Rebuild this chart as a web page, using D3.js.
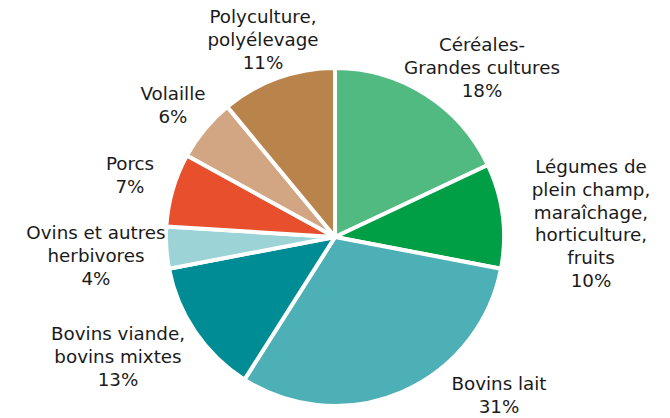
<!DOCTYPE html>
<html>
<head>
<meta charset="utf-8">
<script src="https://cdn.jsdelivr.net/npm/d3@7"></script>
<style>
  body { margin: 0; background: #fff; }
  text { font-family: "DejaVu Sans", Verdana, sans-serif; font-size: 18.3px; fill: #1a1a1a; }
</style>
</head>
<body>
<script>
const width = 670;
const height = 418;

const categories = [
  "Céréales-\nGrandes cultures",
  "Légumes de\nplein champ,\nmaraîchage,\nhorticulture,\nfruits",
  "Bovins lait",
  "Bovins viande,\nbovins mixtes",
  "Ovins et autres\nherbivores",
  "Porcs",
  "Volaille",
  "Polyculture,\npolyélevage"
];
const shares = [18, 10, 31, 13, 4, 7, 6, 11];
const colors = ["#50ba80", "#009f45", "#4db0b6", "#008c94", "#9bd3d6", "#e8502d", "#d2a682", "#b8844c"];

// where each label block is centred (x) and its first baseline sits (y)
const labelPos = [
  [482, 51], [591, 173], [499, 390], [118, 340],
  [96, 239], [130, 170], [173, 100], [263, 23]
];

const cx = 335, cy = 237, radius = 169;

const svg = d3.select("body")
  .append("svg")
  .attr("width", width)
  .attr("height", height);

const pie = d3.pie().sort(null).value(d => d);
const arc = d3.arc().innerRadius(0).outerRadius(radius);

svg.append("g")
  .attr("transform", `translate(${cx}, ${cy})`)
  .selectAll("path")
  .data(pie(shares))
  .enter()
  .append("path")
  .attr("d", arc)
  .attr("fill", (d, i) => colors[i])
  .attr("stroke", "#fff")
  .attr("stroke-width", 4)
  .attr("stroke-linejoin", "round");

const lineH = 22.8;
const labels = svg.selectAll("text.lbl")
  .data(categories)
  .enter()
  .append("text")
  .attr("class", "lbl")
  .attr("text-anchor", "middle")
  .attr("x", (d, i) => labelPos[i][0])
  .attr("y", (d, i) => labelPos[i][1]);

labels.each(function(d, i) {
  const lines = d.split("\n").concat([shares[i] + "%"]);
  d3.select(this).selectAll("tspan")
    .data(lines)
    .enter()
    .append("tspan")
    .attr("x", labelPos[i][0])
    .attr("dy", (l, j) => j === 0 ? 0 : lineH)
    .text(l => l);
});
</script>
</body>
</html>
